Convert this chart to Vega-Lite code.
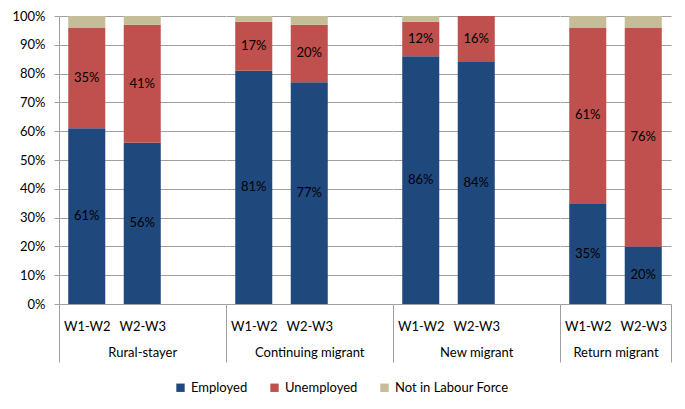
{
  "$schema": "https://vega.github.io/schema/vega-lite/v6.json",
  "padding": {"left": 11, "top": 10, "right": 5, "bottom": 5},
  "spacing": 0,
  "bounds": "flush",
  "datasets": {
    "d": [
      {"group": "Rural-stayer", "period": "W1-W2", "status": "Employed", "value": 61},
      {"group": "Rural-stayer", "period": "W1-W2", "status": "Unemployed", "value": 35},
      {"group": "Rural-stayer", "period": "W1-W2", "status": "Not in Labour Force", "value": 4},
      {"group": "Rural-stayer", "period": "W2-W3", "status": "Employed", "value": 56},
      {"group": "Rural-stayer", "period": "W2-W3", "status": "Unemployed", "value": 41},
      {"group": "Rural-stayer", "period": "W2-W3", "status": "Not in Labour Force", "value": 3},
      {"group": "Continuing migrant", "period": "W1-W2", "status": "Employed", "value": 81},
      {"group": "Continuing migrant", "period": "W1-W2", "status": "Unemployed", "value": 17},
      {"group": "Continuing migrant", "period": "W1-W2", "status": "Not in Labour Force", "value": 2},
      {"group": "Continuing migrant", "period": "W2-W3", "status": "Employed", "value": 77},
      {"group": "Continuing migrant", "period": "W2-W3", "status": "Unemployed", "value": 20},
      {"group": "Continuing migrant", "period": "W2-W3", "status": "Not in Labour Force", "value": 3},
      {"group": "New migrant", "period": "W1-W2", "status": "Employed", "value": 86},
      {"group": "New migrant", "period": "W1-W2", "status": "Unemployed", "value": 12},
      {"group": "New migrant", "period": "W1-W2", "status": "Not in Labour Force", "value": 2},
      {"group": "New migrant", "period": "W2-W3", "status": "Employed", "value": 84},
      {"group": "New migrant", "period": "W2-W3", "status": "Unemployed", "value": 16},
      {"group": "New migrant", "period": "W2-W3", "status": "Not in Labour Force", "value": 0},
      {"group": "Return migrant", "period": "W1-W2", "status": "Employed", "value": 35},
      {"group": "Return migrant", "period": "W1-W2", "status": "Unemployed", "value": 61},
      {"group": "Return migrant", "period": "W1-W2", "status": "Not in Labour Force", "value": 4},
      {"group": "Return migrant", "period": "W2-W3", "status": "Employed", "value": 20},
      {"group": "Return migrant", "period": "W2-W3", "status": "Unemployed", "value": 76},
      {"group": "Return migrant", "period": "W2-W3", "status": "Not in Labour Force", "value": 4}
    ]
  },
  "hconcat": [
    {
      "width": 166.5, "height": 288,
      "data": {"name": "d"},
      "transform": [
        {"filter": "datum.group == 'Rural-stayer'"},
        {"calculate": "indexof(['Employed','Unemployed','Not in Labour Force'], datum.status)", "as": "ord"},
        {"stack": "value", "groupby": ["period"], "sort": [{"field": "ord"}], "offset": "normalize", "as": ["y0", "y1"]},
        {"calculate": "(datum.y0 + datum.y1) / 2", "as": "ymid"},
        {"calculate": "datum.value + '%'", "as": "lbl"}
      ],
      "encoding": {
        "x": {"field": "period", "type": "nominal", "scale": {"domain": ["W1-W2", "W2-W3", "_"], "paddingInner": 0, "paddingOuter": 0},
          "axis": {"title": "Rural-stayer", "labelExpr": "datum.value == '_' ? '' : datum.label",
            "tickColor": {"condition": {"test": "datum.value == '_' || datum.extra", "value": "#a0a0a0"}, "value": "rgba(0,0,0,0)"}}}
      },
      "layer": [
        {"mark": {"type": "bar", "width": {"band": 0.667}},
          "encoding": {
            "y": {"field": "y0", "type": "quantitative", "scale": {"domain": [0, 1]},
              "axis": {"title": null, "values": [0, 0.1, 0.2, 0.3, 0.4, 0.5, 0.6, 0.7, 0.8, 0.9, 1], "format": ".0%", "tickSize": 5, "labelPadding": 9, "labelOverlap": false}},
            "y2": {"field": "y1"},
            "color": {"field": "status", "type": "nominal", "scale": {"domain": ["Employed", "Unemployed", "Not in Labour Force"], "range": ["#1F497D", "#C0504D", "#C4BD97"]}, "legend": {"title": null}}
          }},
        {"transform": [{"filter": "datum.status != 'Not in Labour Force'"}],
          "mark": {"type": "text", "fontSize": 13, "color": "#000000"},
          "encoding": {"y": {"field": "ymid", "type": "quantitative",
              "axis": {"title": null, "values": [0, 0.1, 0.2, 0.3, 0.4, 0.5, 0.6, 0.7, 0.8, 0.9, 1], "format": ".0%", "tickSize": 5, "labelPadding": 9, "labelOverlap": false}}, "text": {"field": "lbl"}}}
      ]
    },
    {
      "width": 166.5, "height": 288,
      "data": {"name": "d"},
      "transform": [
        {"filter": "datum.group == 'Continuing migrant'"},
        {"calculate": "indexof(['Employed','Unemployed','Not in Labour Force'], datum.status)", "as": "ord"},
        {"stack": "value", "groupby": ["period"], "sort": [{"field": "ord"}], "offset": "normalize", "as": ["y0", "y1"]},
        {"calculate": "(datum.y0 + datum.y1) / 2", "as": "ymid"},
        {"calculate": "datum.value + '%'", "as": "lbl"}
      ],
      "encoding": {
        "x": {"field": "period", "type": "nominal", "scale": {"domain": ["W1-W2", "W2-W3", "_"], "paddingInner": 0, "paddingOuter": 0},
          "axis": {"title": "Continuing migrant", "labelExpr": "datum.value == '_' ? '' : datum.label",
            "tickColor": {"condition": {"test": "datum.value == '_'", "value": "#a0a0a0"}, "value": "rgba(0,0,0,0)"}}}
      },
      "layer": [
        {"mark": {"type": "bar", "width": {"band": 0.667}},
          "encoding": {
            "y": {"field": "y0", "type": "quantitative", "scale": {"domain": [0, 1]},
              "axis": {"title": null, "values": [0, 0.1, 0.2, 0.3, 0.4, 0.5, 0.6, 0.7, 0.8, 0.9, 1], "labels": false, "ticks": false, "domain": false}},
            "y2": {"field": "y1"},
            "color": {"field": "status", "type": "nominal", "scale": {"domain": ["Employed", "Unemployed", "Not in Labour Force"], "range": ["#1F497D", "#C0504D", "#C4BD97"]}, "legend": {"title": null}}
          }},
        {"transform": [{"filter": "datum.status != 'Not in Labour Force'"}],
          "mark": {"type": "text", "fontSize": 13, "color": "#000000"},
          "encoding": {"y": {"field": "ymid", "type": "quantitative",
              "axis": {"title": null, "values": [0, 0.1, 0.2, 0.3, 0.4, 0.5, 0.6, 0.7, 0.8, 0.9, 1], "labels": false, "ticks": false, "domain": false}}, "text": {"field": "lbl"}}}
      ]
    },
    {
      "width": 166.5, "height": 288,
      "data": {"name": "d"},
      "transform": [
        {"filter": "datum.group == 'New migrant'"},
        {"calculate": "indexof(['Employed','Unemployed','Not in Labour Force'], datum.status)", "as": "ord"},
        {"stack": "value", "groupby": ["period"], "sort": [{"field": "ord"}], "offset": "normalize", "as": ["y0", "y1"]},
        {"calculate": "(datum.y0 + datum.y1) / 2", "as": "ymid"},
        {"calculate": "datum.value + '%'", "as": "lbl"}
      ],
      "encoding": {
        "x": {"field": "period", "type": "nominal", "scale": {"domain": ["W1-W2", "W2-W3", "_"], "paddingInner": 0, "paddingOuter": 0},
          "axis": {"title": "New migrant", "labelExpr": "datum.value == '_' ? '' : datum.label",
            "tickColor": {"condition": {"test": "datum.value == '_'", "value": "#a0a0a0"}, "value": "rgba(0,0,0,0)"}}}
      },
      "layer": [
        {"mark": {"type": "bar", "width": {"band": 0.667}},
          "encoding": {
            "y": {"field": "y0", "type": "quantitative", "scale": {"domain": [0, 1]},
              "axis": {"title": null, "values": [0, 0.1, 0.2, 0.3, 0.4, 0.5, 0.6, 0.7, 0.8, 0.9, 1], "labels": false, "ticks": false, "domain": false}},
            "y2": {"field": "y1"},
            "color": {"field": "status", "type": "nominal", "scale": {"domain": ["Employed", "Unemployed", "Not in Labour Force"], "range": ["#1F497D", "#C0504D", "#C4BD97"]}, "legend": {"title": null}}
          }},
        {"transform": [{"filter": "datum.status != 'Not in Labour Force'"}],
          "mark": {"type": "text", "fontSize": 13, "color": "#000000"},
          "encoding": {"y": {"field": "ymid", "type": "quantitative",
              "axis": {"title": null, "values": [0, 0.1, 0.2, 0.3, 0.4, 0.5, 0.6, 0.7, 0.8, 0.9, 1], "labels": false, "ticks": false, "domain": false}}, "text": {"field": "lbl"}}}
      ]
    },
    {
      "width": 111, "height": 288,
      "data": {"name": "d"},
      "transform": [
        {"filter": "datum.group == 'Return migrant'"},
        {"calculate": "indexof(['Employed','Unemployed','Not in Labour Force'], datum.status)", "as": "ord"},
        {"stack": "value", "groupby": ["period"], "sort": [{"field": "ord"}], "offset": "normalize", "as": ["y0", "y1"]},
        {"calculate": "(datum.y0 + datum.y1) / 2", "as": "ymid"},
        {"calculate": "datum.value + '%'", "as": "lbl"}
      ],
      "encoding": {
        "x": {"field": "period", "type": "nominal", "scale": {"domain": ["W1-W2", "W2-W3"], "paddingInner": 0, "paddingOuter": 0},
          "axis": {"title": "Return migrant",
            "tickColor": {"condition": {"test": "datum.value == 'W2-W3'", "value": "#a0a0a0"}, "value": "rgba(0,0,0,0)"}}}
      },
      "layer": [
        {"mark": {"type": "bar", "width": {"band": 0.667}},
          "encoding": {
            "y": {"field": "y0", "type": "quantitative", "scale": {"domain": [0, 1]},
              "axis": {"title": null, "values": [0, 0.1, 0.2, 0.3, 0.4, 0.5, 0.6, 0.7, 0.8, 0.9, 1], "labels": false, "ticks": false, "domain": false}},
            "y2": {"field": "y1"},
            "color": {"field": "status", "type": "nominal", "scale": {"domain": ["Employed", "Unemployed", "Not in Labour Force"], "range": ["#1F497D", "#C0504D", "#C4BD97"]}, "legend": {"title": null}}
          }},
        {"transform": [{"filter": "datum.status != 'Not in Labour Force'"}],
          "mark": {"type": "text", "fontSize": 13, "color": "#000000"},
          "encoding": {"y": {"field": "ymid", "type": "quantitative",
              "axis": {"title": null, "values": [0, 0.1, 0.2, 0.3, 0.4, 0.5, 0.6, 0.7, 0.8, 0.9, 1], "labels": false, "ticks": false, "domain": false}}, "text": {"field": "lbl"}}}
      ]
    }
  ],
  "config": {
    "font": "Lato",
    "view": {"stroke": null},
    "axis": {"labelFont": "Lato", "labelFontSize": 13, "labelColor": "#000000", "titleFont": "Lato", "titleFontSize": 13, "titleFontWeight": "normal", "titleColor": "#000000", "gridColor": "#a0a0a0", "domainColor": "#a0a0a0", "tickColor": "#a0a0a0"},
    "axisX": {"labelAngle": 0, "tickBand": "extent", "tickSize": 58, "labelPadding": -42, "titlePadding": -16, "grid": false},
    "axisY": {"grid": true},
    "legend": {"orient": "bottom", "direction": "horizontal", "labelFont": "Lato", "labelFontSize": 13, "labelColor": "#000000", "symbolType": "square", "symbolSize": 70, "symbolStrokeWidth": 0, "columnPadding": 20, "layout": {"bottom": {"anchor": "middle"}}}
  }
}
